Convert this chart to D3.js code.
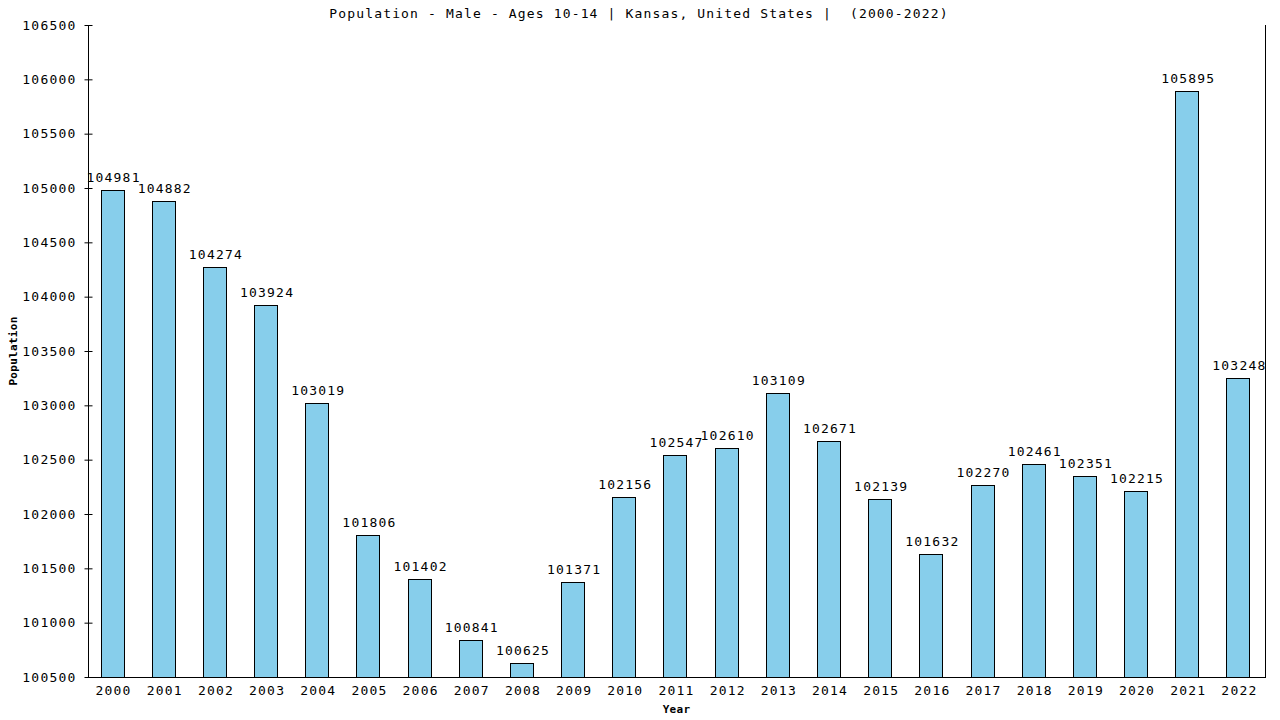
<!DOCTYPE html>
<html>
<head>
<meta charset="utf-8">
<script src="https://cdn.jsdelivr.net/npm/d3@7"></script>
<style>
  html, body { margin: 0; padding: 0; background: #fff; }
  svg { display: block; }
  text { font-family: "DejaVu Sans Mono", monospace; fill: #000; }
</style>
</head>
<body>
<svg id="chart" width="1280" height="720"></svg>
<script>
const years = ["2000","2001","2002","2003","2004","2005","2006","2007","2008","2009","2010","2011","2012","2013","2014","2015","2016","2017","2018","2019","2020","2021","2022"];
const population = [104981,104882,104274,103924,103019,101806,101402,100841,100625,101371,102156,102547,102610,103109,102671,102139,101632,102270,102461,102351,102215,105895,103248];
const yTicks = [100500,101000,101500,102000,102500,103000,103500,104000,104500,105000,105500,106000,106500];
const titleText = "Population - Male - Ages 10-14 | Kansas, United States |  (2000-2022)";
const xTitle = "Year";
const yTitle = "Population";

const svg = d3.select("#chart");
const mLeft = 88, mRight = 1265, mTop = 25, mBottom = 677;

const x = d3.scaleBand().domain(years).range([mLeft, mRight]).paddingInner(0.55).paddingOuter(0.275);
const y = d3.scaleLinear().domain([100500, 106500]).range([mBottom, mTop]);

// bars
svg.append("g").selectAll("rect").data(years).join("rect")
  .attr("x", d => Math.floor(x(d)) - 0.5)
  .attr("y", (d, i) => Math.round(y(population[i])) + 0.5)
  .attr("width", Math.round(x.bandwidth()))
  .attr("height", (d, i) => mBottom - Math.round(y(population[i])))
  .attr("fill", "#87CEEB")
  .attr("stroke", "#000")
  .attr("stroke-width", 1);

// value labels
svg.append("g").selectAll("text").data(years).join("text")
  .attr("x", d => x(d) + x.bandwidth() / 2)
  .attr("y", (d, i) => y(population[i]) - 8)
  .attr("text-anchor", "middle")
  .style("font-size", "13px")
  .style("letter-spacing", "1.2px")
  .text((d, i) => population[i]);

// y axis
const yAxis = d3.axisLeft(y).tickValues(yTicks).tickSize(4).tickFormat(d3.format("d"));
const gy = svg.append("g").attr("transform", `translate(${mLeft + 0.5},0)`).call(yAxis);
gy.select(".domain").remove();
gy.selectAll(".tick line").attr("x1", -4).attr("x2", 4).attr("stroke", "#000");
gy.selectAll(".tick text").attr("x", -12)
  .style("font-family", "DejaVu Sans Mono, monospace")
  .style("font-size", "13px").style("letter-spacing", "1.2px").attr("fill", "#000");
svg.append("line").attr("x1", mLeft + 0.5).attr("x2", mLeft + 0.5).attr("y1", mTop).attr("y2", mBottom + 0.5).attr("stroke", "#000");
svg.append("line").attr("x1", mRight + 0.5).attr("x2", mRight + 0.5).attr("y1", mTop).attr("y2", mBottom + 0.5).attr("stroke", "#000");

// x axis
const xAxis = d3.axisBottom(x).tickSize(0).tickPadding(8);
const gx = svg.append("g").attr("transform", `translate(0,${mBottom + 0.5})`).call(xAxis);
gx.select(".domain").remove();
gx.selectAll(".tick text")
  .style("font-family", "DejaVu Sans Mono, monospace")
  .style("font-size", "13px").style("letter-spacing", "1.2px").attr("fill", "#000");
svg.append("line").attr("x1", mLeft).attr("x2", mRight + 1).attr("y1", mBottom + 0.5).attr("y2", mBottom + 0.5).attr("stroke", "#000");

// title
svg.append("text").attr("x", 639).attr("y", 18)
  .attr("text-anchor", "middle")
  .style("font-size", "13px").style("letter-spacing", "1.15px")
  .style("white-space", "pre")
  .attr("xml:space", "preserve")
  .text(titleText);

// axis titles
svg.append("text").attr("x", (mLeft + mRight) / 2).attr("y", 713)
  .attr("text-anchor", "middle")
  .style("font-size", "11px").style("font-weight", "bold").style("letter-spacing", "0.3px")
  .text(xTitle);
svg.append("text").attr("transform", `translate(17,${(mTop + mBottom) / 2}) rotate(-90)`)
  .attr("text-anchor", "middle")
  .style("font-size", "11px").style("font-weight", "bold").style("letter-spacing", "0.3px")
  .text(yTitle);
</script>
</body>
</html>
